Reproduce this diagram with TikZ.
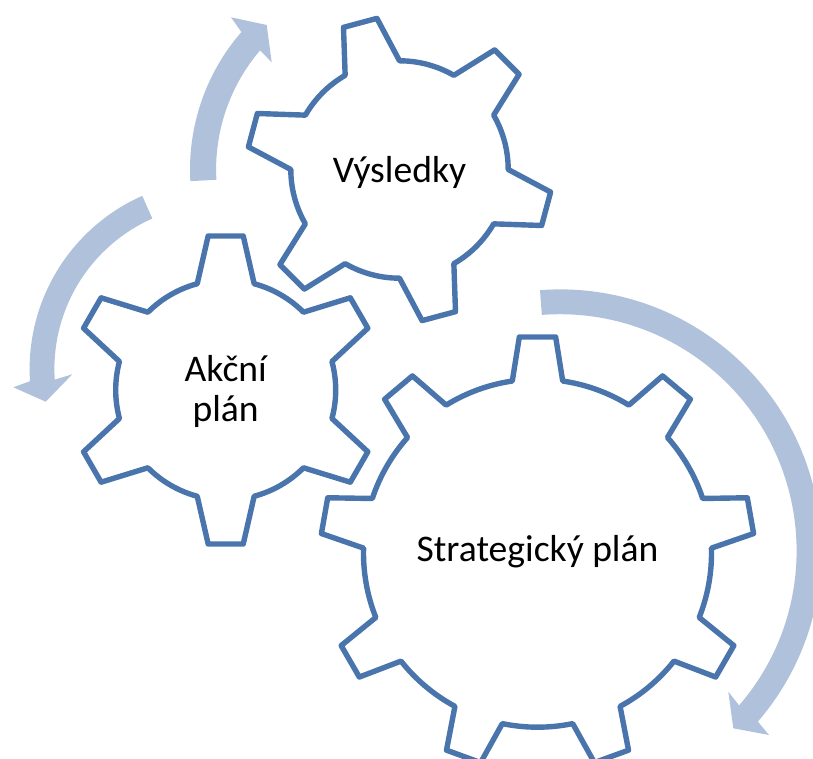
\documentclass[tikz,border=0pt]{standalone}
\usepackage{fontspec}
\setmainfont{Carlito}
\definecolor{gearblue}{HTML}{4A75AC}
\definecolor{arrowblue}{HTML}{B0C1DC}
\tikzset{
  gearline/.style={draw=gearblue,line width=5.4pt,line join=round},
  turnarrow/.style={fill=arrowblue,draw=none},
  gearlabel/.style={anchor=base,inner sep=0pt,font=\fontsize{37.6}{45}\selectfont,text=black}
}
% #1 centre, #2 root radius, #3 tip radius, #4 root half angle, #5 tip half angle, #6 spacing, #7 tooth angles
\newcommand{\drawgear}[7]{%
  \begin{scope}[shift={#1}]
    \pgfmathsetmacro{\firsttooth}{\firstoflist#7\relax}
    \draw[gearline] (\firsttooth+#4:#2)
      \foreach \ta in {#7} {
        -- (\ta+#5:#3) -- (\ta-#5:#3) -- (\ta-#4:#2)
        arc[start angle=\ta-#4, delta angle=-(#6-2*#4), radius=#2]
      } -- cycle;
  \end{scope}}
\def\firstoflist#1,#2\relax{#1}
\begin{document}
\begin{tikzpicture}[x=1pt,y=1pt]
\clip (0,0) rectangle (813,758);
\begin{scope}[shift={(0,758)}]
  % gears
  \drawgear{(399.5,-169.5)}{108.7}{152.8}{15}{6.5}{60}{105,45,-15,-75,-135,-195}
  \drawgear{(225.7,-390)}{110}{155}{15}{6.5}{60}{90,30,-30,-90,-150,-210}
  \drawgear{(537.5,-553.2)}{174}{217}{8.33}{4.8}{40}{90,50,10,-30,-70,-110,-150,-190,-230}
  % arrows
  \begin{scope}[shift={(399.5,-169.5)}]
    \coordinate (toptip) at (-132.8,144.5);
    \fill[turnarrow] (183.2:209.5) arc[start angle=183.2, end angle=139, radius=209.5]
      -- (-168.5,152.2) -- (toptip) -- (-127.8,107.2) -- (139.5:183.4)
      arc[start angle=139.5, end angle=183.2, radius=183.4] -- cycle;
  \end{scope}
  \begin{scope}[shift={(219,-369)}]
    \fill[turnarrow] (113.9:189.4) arc[start angle=113.9, end angle=183.7, radius=189.4]
      -- (-205.7,-18.3) -- (-173.3,-32.7) -- (-146.7,-5.3) -- (183.7:164.6)
      arc[start angle=183.7, end angle=113.9, radius=164.6] -- cycle;
  \end{scope}
  \begin{scope}[shift={(560,-550.8)}]
    \fill[turnarrow] (94.4:261.4) arc[start angle=94.4, end angle=-40.8, radius=261.4]
      -- (209,-184.2) -- (173.3,-177.5) -- (168.3,-140.9) -- (-40.8:236.6)
      arc[start angle=-40.8, end angle=94.4, radius=236.6] -- cycle;
  \end{scope}
  % labels
  \node[gearlabel] (results) at (399.5,-182.5) {Výsledky};
  \node[gearlabel] (action1) at (225.7,-381.5) {Akční};
  \node[gearlabel] (action2) at (225.7,-422) {plán};
  \node[gearlabel] (strategy) at (537.5,-561) {Strategický plán};
\end{scope}
\end{tikzpicture}
\end{document}
